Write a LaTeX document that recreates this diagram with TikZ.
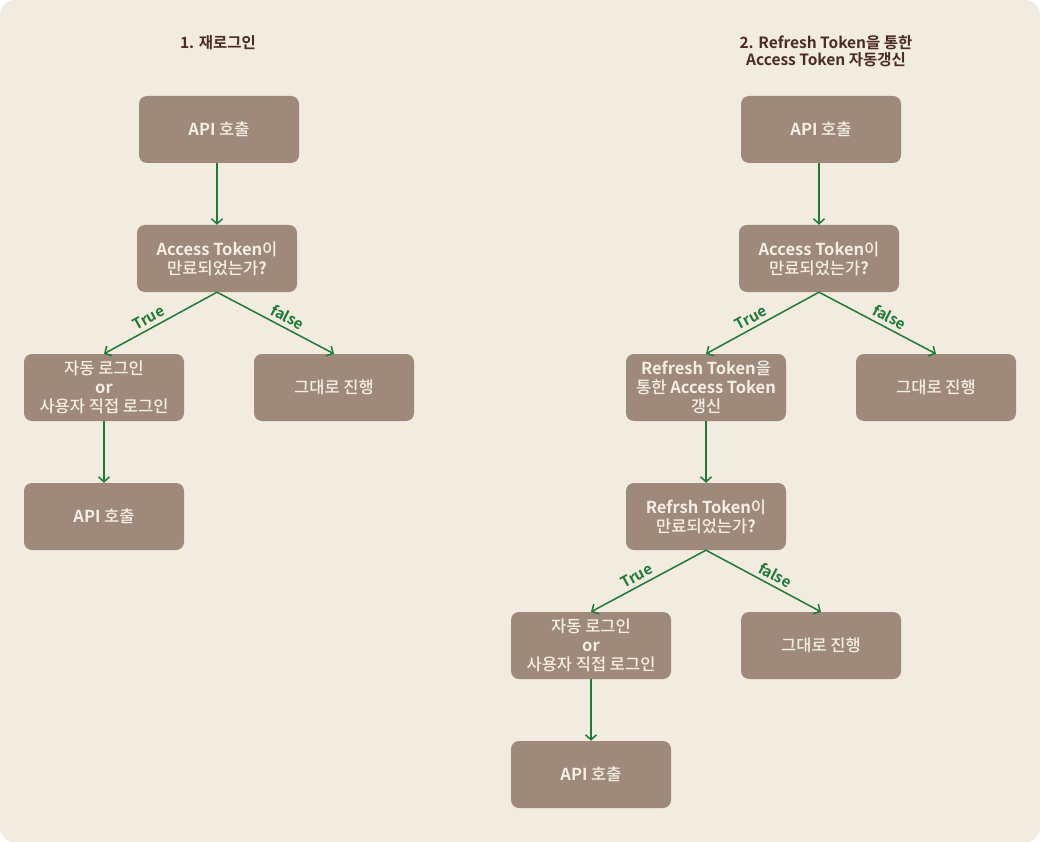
\documentclass[tikz,border=0pt]{standalone}
\usepackage{fontspec}
\setmainfont{Noto Sans CJK KR}[UprightFont=* Medium,BoldFont=* Bold]
\usetikzlibrary{arrows.meta}
\definecolor{bgcol}{HTML}{F2EBE0}
\definecolor{boxcol}{HTML}{9E897B}
\definecolor{txtcol}{HTML}{F5EEE4}
\definecolor{arrcol}{HTML}{1F7A35}
\definecolor{titcol}{HTML}{4A2C22}
\tikzstyle{box}=[rectangle,rounded corners=8pt,fill=boxcol,text=txtcol,minimum width=160pt,minimum height=67pt,align=center,inner sep=2pt,font=\fontsize{16.5}{19}\selectfont]
\tikzstyle{flow}=[draw=arrcol,line width=1.5pt,-{Straight Barb[length=5pt,width=11pt]}]
\tikzstyle{cond}=[text=arrcol,font=\fontsize{15}{16}\selectfont\bfseries,sloped,above=3pt,inner sep=1pt,pos=0.56]
\tikzstyle{heading}=[text=titcol,align=center,font=\fontsize{15.5}{17}\selectfont\bfseries]

\begin{document}
\begin{tikzpicture}[x=1pt,y=-1pt]
\fill[white] (0,0) rectangle (1040,842);
\fill[bgcol,rounded corners=15pt] (0,0) rectangle (1040,842);
\useasboundingbox (0,0) rectangle (1040,842);

\node[heading] (t1) at (218,43) {1. 재로그인};
\node[heading] (t2) at (826,51) {2. Refresh Token을 통한\\ Access Token 자동갱신};

% 재로그인
\node[box] (a1) at (219,129.5) {\textbf{API} 호출};
\node[box] (a2) at (217,258.5) {\textbf{Access Token}이\\ 만료되었는가\textbf{?}};
\node[box] (a3) at (104,387.5) {자동 로그인\\ \textbf{or}\\ 사용자 직접 로그인};
\node[box] (a4) at (334,387.5) {그대로 진행};
\node[box] (a5) at (104,516.5) {\textbf{API} 호출};

\draw[flow] (a1.south -| a2) -- (a2.north);
\draw[flow] (a2.south) -- node[cond] {True} (a3.north);
\draw[flow] (a2.south) -- node[cond] {false} (a4.north);
\draw[flow] (a3.south) -- (a5.north);

% 자동갱신
\node[box] (b1) at (821,129.5) {\textbf{API} 호출};
\node[box] (b2) at (819,258.5) {\textbf{Access Token}이\\ 만료되었는가\textbf{?}};
\node[box] (b3) at (706,387.5) {\textbf{Refresh Token}을\\ 통한 \textbf{Access Token}\\ 갱신};
\node[box] (b4) at (936,387.5) {그대로 진행};
\node[box] (b5) at (706,516.5) {\textbf{Refrsh Token}이\\ 만료되었는가\textbf{?}};
\node[box] (b6) at (591,645.5) {자동 로그인\\ \textbf{or}\\ 사용자 직접 로그인};
\node[box] (b7) at (821,645.5) {그대로 진행};
\node[box] (b8) at (591,774.5) {\textbf{API} 호출};

\draw[flow] (b1.south -| b2) -- (b2.north);
\draw[flow] (b2.south) -- node[cond] {True} (b3.north);
\draw[flow] (b2.south) -- node[cond] {false} (b4.north);
\draw[flow] (b3.south) -- (b5.north);
\draw[flow] (b5.south) -- node[cond] {True} (b6.north);
\draw[flow] (b5.south) -- node[cond] {false} (b7.north);
\draw[flow] (b6.south) -- (b8.north);

\end{tikzpicture}
\end{document}
